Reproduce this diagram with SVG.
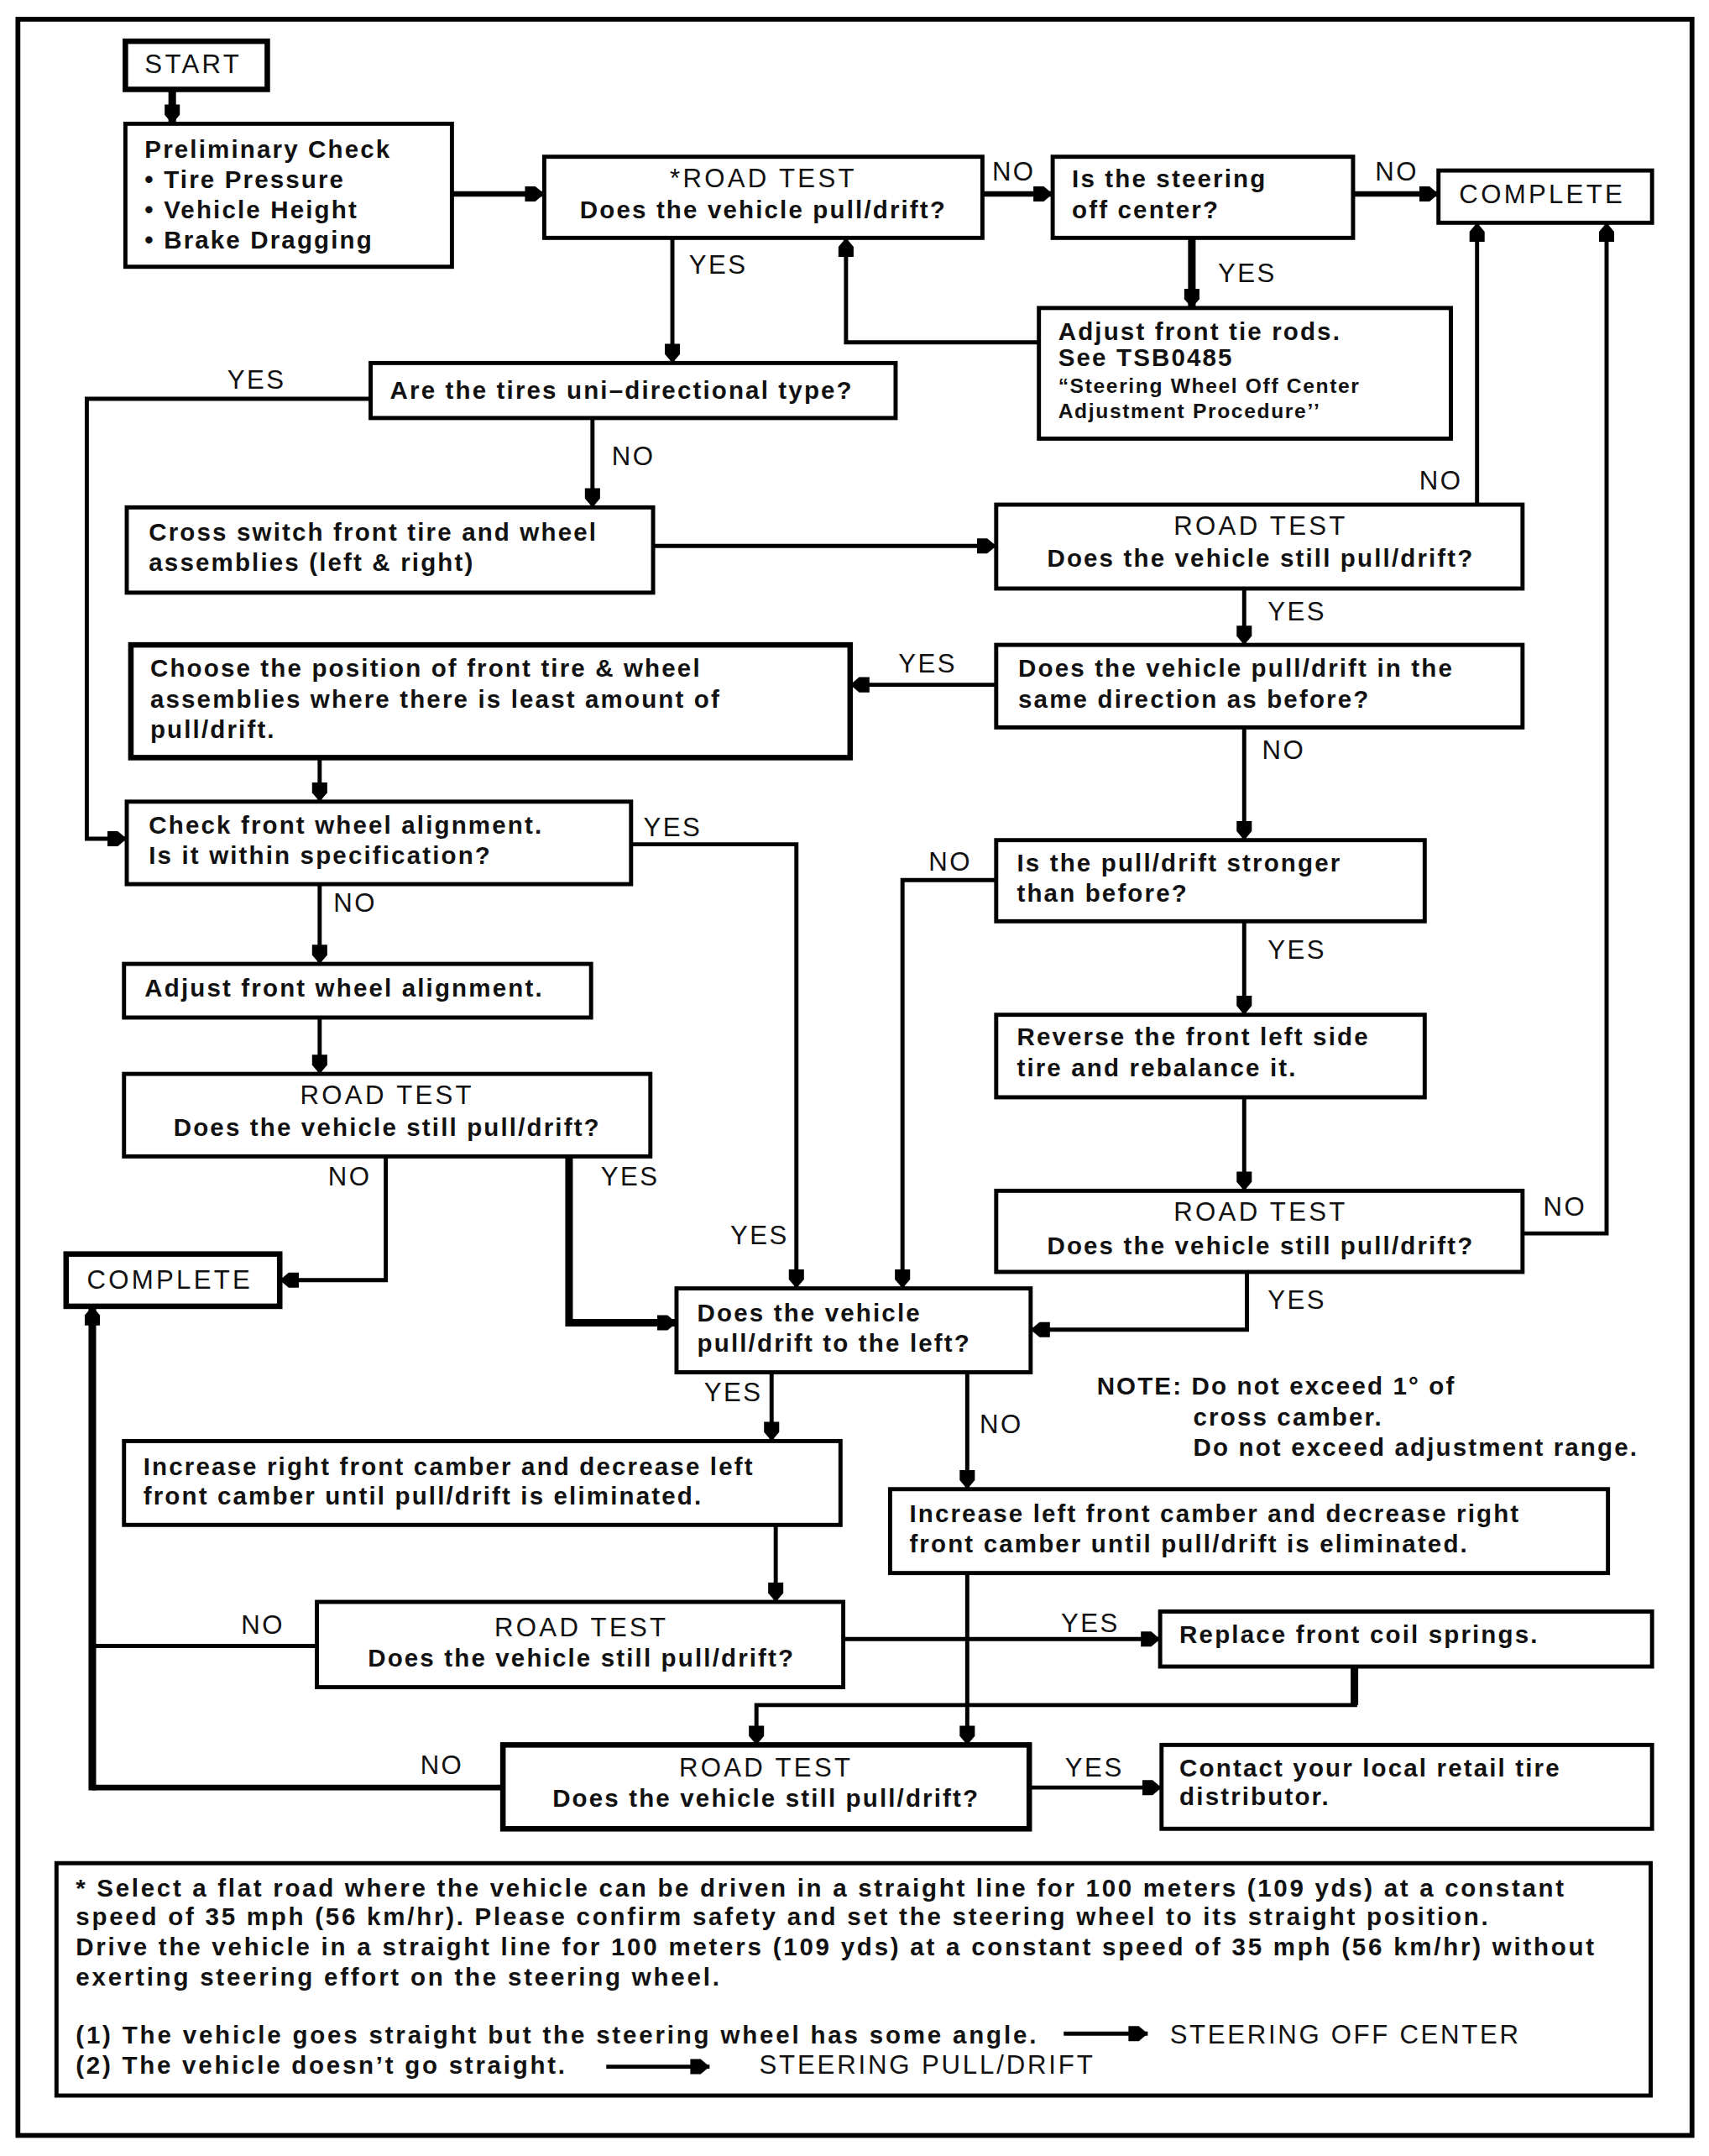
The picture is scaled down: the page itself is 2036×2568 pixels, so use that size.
<svg xmlns="http://www.w3.org/2000/svg" width="2036" height="2568" viewBox="0 0 2036 2568">
<style>
.box{fill:#fff;stroke:#000;stroke-width:3}
.ln{fill:none;stroke:#000;stroke-width:3;marker-end:url(#ah)}
.nm{fill:none;stroke:#000;stroke-width:3}
.t4{stroke-width:4}
.t5{stroke-width:5.5}
text{font-family:"Liberation Sans",Arial,sans-serif;fill:#111}
.bx{font-size:18px;font-weight:bold;letter-spacing:1.3px}
.sm{font-size:15px;font-weight:bold;letter-spacing:1px}
.cap{font-size:19px;letter-spacing:2px}
.lbl{font-size:19px;letter-spacing:1.5px}
.fn{font-size:18px;font-weight:bold}
.mid{text-anchor:middle}
</style>
<defs>
<marker id="ah" viewBox="-14 -6.5 14 13" refX="0" refY="0" markerWidth="14" markerHeight="13" markerUnits="userSpaceOnUse" orient="auto">
<path d="M-14,-5.5 L-6.5,-5.5 L0,0 L-6.5,5.5 L-14,5.5 Z" fill="#000"/>
</marker>
</defs>
<rect width="2036" height="2568" fill="#fff"/>
<g transform="scale(1.6415,1.6378)">
<rect x="13" y="14" width="1215" height="1539" fill="none" stroke="#000" stroke-width="3.5"/>

<g id="connectors">
<path class="ln t5" d="M125 65 V90"/>
<path class="ln t4" d="M328 141 H395"/>
<path class="ln t4" d="M713 141 H764"/>
<path class="ln t4" d="M982 141 H1044"/>
<path class="ln t5" d="M865 173 V224"/>
<path class="ln" d="M754 249 H614 V173"/>
<path class="ln" d="M488 173 V264"/>
<path class="ln" d="M269 290 H63 V610 H92"/>
<path class="ln" d="M430 304 V369"/>
<path class="ln" d="M474 397 H723"/>
<path class="ln" d="M1072 367 V162"/>
<path class="ln" d="M1105 897 H1166 V162"/>
<path class="ln" d="M903 428 V469"/>
<path class="ln" d="M723 498 H617"/>
<path class="ln" d="M232 551 V583"/>
<path class="ln" d="M903 529 V611"/>
<path class="ln" d="M723 640 H655 V937"/>
<path class="ln" d="M903 670 V738"/>
<path class="ln" d="M903 798 V866"/>
<path class="ln" d="M905 925 V967 H748"/>
<path class="ln" d="M458 614 H578 V937"/>
<path class="ln" d="M232 643 V701"/>
<path class="ln" d="M232 740 V781"/>
<path class="ln" d="M280 841 V931 H203"/>
<path class="ln t5" d="M413 841 V962 H491"/>
<path class="ln" d="M560 998 V1048"/>
<path class="ln" d="M702 998 V1083"/>
<path class="ln" d="M563 1109 V1165"/>
<path class="ln" d="M702 1144 V1269"/>
<path class="nm" d="M230 1197 H67"/>
<path class="nm t4" d="M365 1300 H67"/>
<path class="ln t5" d="M67 1302 V950"/>
<path class="ln" d="M612 1192 H842"/>
<path class="nm t5" d="M983 1212 V1240"/>
<path class="ln" d="M985 1240 H549 V1269"/>
<path class="ln" d="M747 1300 H843"/>
</g>

<g id="labels" class="lbl">
<text x="720" y="131">NO</text>
<text x="998" y="131">NO</text>
<text x="884" y="205">YES</text>
<text x="500" y="199">YES</text>
<text x="165" y="283">YES</text>
<text x="444" y="338">NO</text>
<text x="1030" y="356">NO</text>
<text x="920" y="451">YES</text>
<text x="652" y="489">YES</text>
<text x="916" y="552">NO</text>
<text x="467" y="608">YES</text>
<text x="674" y="633">NO</text>
<text x="242" y="663">NO</text>
<text x="920" y="697">YES</text>
<text x="238" y="862">NO</text>
<text x="436" y="862">YES</text>
<text x="1120" y="884">NO</text>
<text x="530" y="905">YES</text>
<text x="920" y="952">YES</text>
<text x="511" y="1019">YES</text>
<text x="711" y="1042">NO</text>
<text x="175" y="1188">NO</text>
<text x="770" y="1187">YES</text>
<text x="305" y="1290">NO</text>
<text x="773" y="1292">YES</text>
</g>

<g id="start"><rect class="box t4" x="91" y="30" width="103" height="35"/><text class="cap" x="105" y="53">START</text></g>
<g id="prelim"><rect class="box" x="91" y="90" width="237" height="104"/>
<text class="bx" x="105" y="115">Preliminary Check</text>
<text class="bx" x="105" y="137">• Tire Pressure</text>
<text class="bx" x="105" y="159">• Vehicle Height</text>
<text class="bx" x="105" y="181">• Brake Dragging</text></g>
<g id="rt1"><rect class="box" x="395" y="114" width="318" height="59"/>
<text class="cap mid" x="554" y="136">*ROAD TEST</text>
<text class="bx mid" x="554" y="159">Does the vehicle pull/drift?</text></g>
<g id="steer"><rect class="box" x="764" y="114" width="218" height="59"/>
<text class="bx" x="778" y="136">Is the steering</text>
<text class="bx" x="778" y="159">off center?</text></g>
<g id="complete1"><rect class="box" x="1044" y="124" width="155" height="38"/><text class="cap" x="1059" y="148">COMPLETE</text></g>
<g id="tierods"><rect class="box" x="754" y="224" width="299" height="95"/>
<text class="bx" x="768" y="247">Adjust front tie rods.</text>
<text class="bx" x="768" y="266">See TSB0485</text>
<text class="sm" x="768" y="286">“Steering Wheel Off Center</text>
<text class="sm" x="768" y="304">Adjustment Procedure’’</text></g>
<g id="tires"><rect class="box" x="269" y="264" width="381" height="40"/>
<text class="bx" x="283" y="290">Are the tires uni–directional type?</text></g>
<g id="cross"><rect class="box" x="92" y="369" width="382" height="62"/>
<text class="bx" x="108" y="393">Cross switch front tire and wheel</text>
<text class="bx" x="108" y="415">assemblies (left &amp; right)</text></g>
<g id="rt2"><rect class="box" x="723" y="367" width="382" height="61"/>
<text class="cap mid" x="915" y="389">ROAD TEST</text>
<text class="bx mid" x="915" y="412">Does the vehicle still pull/drift?</text></g>
<g id="same"><rect class="box" x="723" y="469" width="382" height="60"/>
<text class="bx" x="739" y="492">Does the vehicle pull/drift in the</text>
<text class="bx" x="739" y="515">same direction as before?</text></g>
<g id="choose"><rect class="box t4" x="95" y="469" width="522" height="82"/>
<text class="bx" x="109" y="492">Choose the position of front tire &amp; wheel</text>
<text class="bx" x="109" y="515">assemblies where there is least amount of</text>
<text class="bx" x="109" y="537">pull/drift.</text></g>
<g id="check"><rect class="box" x="92" y="583" width="366" height="60"/>
<text class="bx" x="108" y="606">Check front wheel alignment.</text>
<text class="bx" x="108" y="628">Is it within specification?</text></g>
<g id="stronger"><rect class="box" x="723" y="611" width="311" height="59"/>
<text class="bx" x="738" y="634">Is the pull/drift stronger</text>
<text class="bx" x="738" y="656">than before?</text></g>
<g id="adjalign"><rect class="box" x="90" y="701" width="339" height="39"/>
<text class="bx" x="105" y="725">Adjust front wheel alignment.</text></g>
<g id="reverse"><rect class="box" x="723" y="738" width="311" height="60"/>
<text class="bx" x="738" y="760">Reverse the front left side</text>
<text class="bx" x="738" y="783">tire and rebalance it.</text></g>
<g id="rt3"><rect class="box" x="90" y="781" width="382" height="60"/>
<text class="cap mid" x="281" y="803">ROAD TEST</text>
<text class="bx mid" x="281" y="826">Does the vehicle still pull/drift?</text></g>
<g id="rt4"><rect class="box" x="723" y="866" width="382" height="59"/>
<text class="cap mid" x="915" y="888">ROAD TEST</text>
<text class="bx mid" x="915" y="912">Does the vehicle still pull/drift?</text></g>
<g id="complete2"><rect class="box t4" x="48" y="912" width="155" height="38"/><text class="cap" x="63" y="937">COMPLETE</text></g>
<g id="pleft"><rect class="box" x="491" y="937" width="257" height="61"/>
<text class="bx" x="506" y="961">Does the vehicle</text>
<text class="bx" x="506" y="983">pull/drift to the left?</text></g>
<g id="note">
<text class="bx" x="796" y="1014">NOTE: Do not exceed 1° of</text>
<text class="bx" x="866" y="1037">cross camber.</text>
<text class="bx" x="866" y="1059">Do not exceed adjustment range.</text></g>
<g id="incright"><rect class="box" x="90" y="1048" width="520" height="61"/>
<text class="bx" x="104" y="1073">Increase right front camber and decrease left</text>
<text class="bx" x="104" y="1094">front camber until pull/drift is eliminated.</text></g>
<g id="incleft"><rect class="box" x="646" y="1083" width="521" height="61"/>
<text class="bx" x="660" y="1107">Increase left front camber and decrease right</text>
<text class="bx" x="660" y="1129">front camber until pull/drift is eliminated.</text></g>
<g id="rt5"><rect class="box" x="230" y="1165" width="382" height="62"/>
<text class="cap mid" x="422" y="1190">ROAD TEST</text>
<text class="bx mid" x="422" y="1212">Does the vehicle still pull/drift?</text></g>
<g id="replace"><rect class="box" x="842" y="1172" width="357" height="40"/>
<text class="bx" x="856" y="1195">Replace front coil springs.</text></g>
<g id="rt6"><rect class="box t4" x="365" y="1269" width="382" height="61"/>
<text class="cap mid" x="556" y="1292">ROAD TEST</text>
<text class="bx mid" x="556" y="1314">Does the vehicle still pull/drift?</text></g>
<g id="contact"><rect class="box" x="843" y="1269" width="356" height="61"/>
<text class="bx" x="856" y="1292">Contact your local retail tire</text>
<text class="bx" x="856" y="1313">distributor.</text></g>
<g id="footnote"><rect class="box" x="41" y="1355" width="1157" height="169"/>
<text class="fn" x="55" y="1379" textLength="1080" lengthAdjust="spacing">* Select a flat road where the vehicle can be driven in a straight line for 100 meters (109 yds) at a constant</text>
<text class="fn" x="55" y="1400" textLength="1025" lengthAdjust="spacing">speed of 35 mph (56 km/hr). Please confirm safety and set the steering wheel to its straight position.</text>
<text class="fn" x="55" y="1422" textLength="1102" lengthAdjust="spacing">Drive the vehicle in a straight line for 100 meters (109 yds) at a constant speed of 35 mph (56 km/hr) without</text>
<text class="fn" x="55" y="1444" textLength="467" lengthAdjust="spacing">exerting steering effort on the steering wheel.</text>
<text class="fn" x="55" y="1486" textLength="697" lengthAdjust="spacing">(1) The vehicle goes straight but the steering wheel has some angle.</text>
<path class="ln" d="M772 1479 H833"/>
<text class="cap" x="849" y="1486" textLength="255" lengthAdjust="spacing">STEERING OFF CENTER</text>
<text class="fn" x="55" y="1508" textLength="355" lengthAdjust="spacing">(2) The vehicle doesn’t go straight.</text>
<path class="ln" d="M440 1503 H515"/>
<text class="cap" x="551" y="1508" textLength="244" lengthAdjust="spacing">STEERING PULL/DRIFT</text>
</g>
</g>
</svg>
